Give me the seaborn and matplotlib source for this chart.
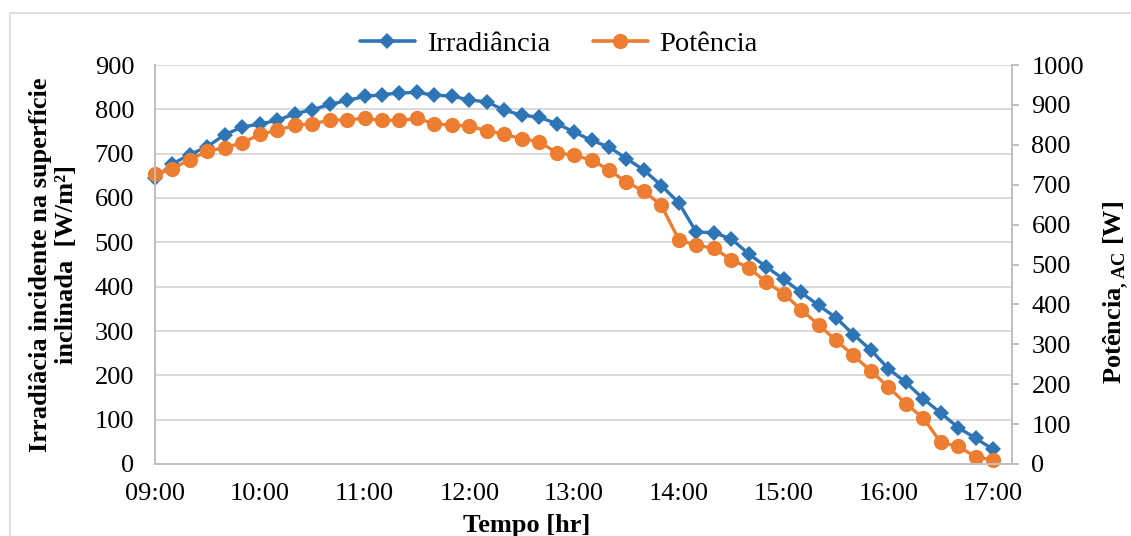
import numpy as np
import pandas as pd
import matplotlib
matplotlib.use("Agg")
import matplotlib.pyplot as plt
import matplotlib.dates as mdates
from matplotlib.patches import Rectangle
from matplotlib.lines import Line2D
import seaborn as sns

# --- data (10 minute steps 09:00 - 17:00) ---
times = pd.date_range("2020-01-01 09:00", "2020-01-01 17:00", freq="10min")

irradiancia = [
    644, 677, 698, 716, 743, 760,
    767, 775, 790, 799, 811, 820,
    829, 833, 837, 838, 832, 830,
    821, 817, 798, 787, 782, 768,
    749, 730, 715, 689, 663, 628,
    589, 523, 522, 508, 474, 445,
    417, 387, 358, 330, 292, 257,
    215, 184, 147, 115, 82, 58,
    33,
]

potencia = [
    726, 740, 763, 784, 793, 805,
    826, 836, 849, 853, 861, 863,
    866, 861, 861, 866, 853, 849,
    847, 835, 827, 815, 808, 780,
    774, 762, 737, 706, 684, 648,
    562, 548, 541, 512, 492, 456,
    427, 387, 349, 310, 272, 233,
    193, 151, 115, 54, 44, 18,
    10,
]

left_ticks = list(range(0, 901, 100))
right_ticks = list(range(0, 1001, 100))

df = pd.DataFrame({"tempo": times, "irr": irradiancia, "pot": potencia})

BLUE = "#2E75B6"
ORANGE = "#ED7D31"
GRID = "#D9D9D9"
AXIS = "#BFBFBF"

sns.set_theme(style="white")
plt.rcParams["font.family"] = ["Liberation Serif", "DejaVu Serif"]
plt.rcParams["mathtext.fontset"] = "custom"
plt.rcParams["mathtext.rm"] = "Liberation Serif"
plt.rcParams["mathtext.bf"] = "Liberation Serif:bold"
plt.rcParams["text.color"] = "black"
plt.rcParams["axes.labelcolor"] = "black"

fig = plt.figure(figsize=(11.31, 5.36), dpi=100)
ax = fig.add_axes([155 / 1131, 1 - 464 / 536, 857 / 1131, 399 / 536])
ax2 = ax.twinx()

sns.lineplot(data=df, x="tempo", y="irr", ax=ax, color=BLUE, marker="D",
             markersize=8.5, markeredgewidth=0, linewidth=2.4)
sns.lineplot(data=df, x="tempo", y="pot", ax=ax2, color=ORANGE, marker="o",
             markersize=11, markeredgewidth=0, linewidth=2.4)
# markers at the edges are drawn in full, like the original
for a in (ax, ax2):
    for ln in a.lines:
        ln.set_clip_on(False)

# axes ranges
ax.set_xlim(times[0], times[-1] + pd.Timedelta(minutes=10.8))
ax.set_ylim(0, 900)
ax2.set_ylim(0, 1000)
ax.set_yticks(left_ticks)
ax2.set_yticks(right_ticks)
ax.xaxis.set_major_locator(mdates.HourLocator())
ax.xaxis.set_major_formatter(mdates.DateFormatter("%H:%M"))

# grid + spines
ax.grid(axis="y", color=GRID, linewidth=1.4)
ax.grid(axis="x", visible=False)
ax.set_axisbelow(True)
for a in (ax, ax2):
    a.spines["top"].set_visible(False)
    for s in ("left", "bottom", "right"):
        a.spines[s].set_color(AXIS)
        a.spines[s].set_linewidth(1.4)

ax.tick_params(axis="y", length=0, pad=15, labelsize=19, labelcolor="black")
ax.tick_params(axis="x", length=0, pad=14, labelsize=19, labelcolor="black")
ax2.tick_params(axis="y", length=5, width=1.4, color=AXIS, pad=9,
                labelsize=19, labelcolor="black")

# labels
ax.set_xlabel("Tempo [hr]", fontsize=19, fontweight="bold", color="black")
ax.xaxis.set_label_coords(0.434, -0.125)
ax.set_ylabel("Irradiâcia incidente na superfície\ninclinada  [W/m²]",
              fontsize=19, fontweight="bold", linespacing=1.15, color="black")
ax.yaxis.set_label_coords(-0.09, 0.5)
ax2.set_ylabel(r"Potência$_{\mathbf{,AC}}$ [W]", fontsize=19,
               fontweight="bold", color="black")
ax2.yaxis.set_label_coords(1.105, 0.43)

# legend
handles = [
    Line2D([], [], color=BLUE, marker="D", markersize=8.5, markeredgewidth=0, linewidth=2.6),
    Line2D([], [], color=ORANGE, marker="o", markersize=11, markeredgewidth=0, linewidth=2.6),
]
leg = fig.legend(handles, ["Irradiância", "Potência"], loc="center",
                 bbox_to_anchor=(0.494, 0.917), ncol=2, frameon=False,
                 fontsize=20.5, handlelength=1.95, handletextpad=0.4,
                 columnspacing=1.5)
for t in leg.get_texts():
    t.set_color("black")

# chart area border
fig.patches.append(Rectangle((9.5 / 1131, -0.1), 1.2, 0.1 + 1 - 12.5 / 536,
                             transform=fig.transFigure, fill=False,
                             edgecolor=GRID, linewidth=1.2))

fig.savefig("out.png", dpi=100)
